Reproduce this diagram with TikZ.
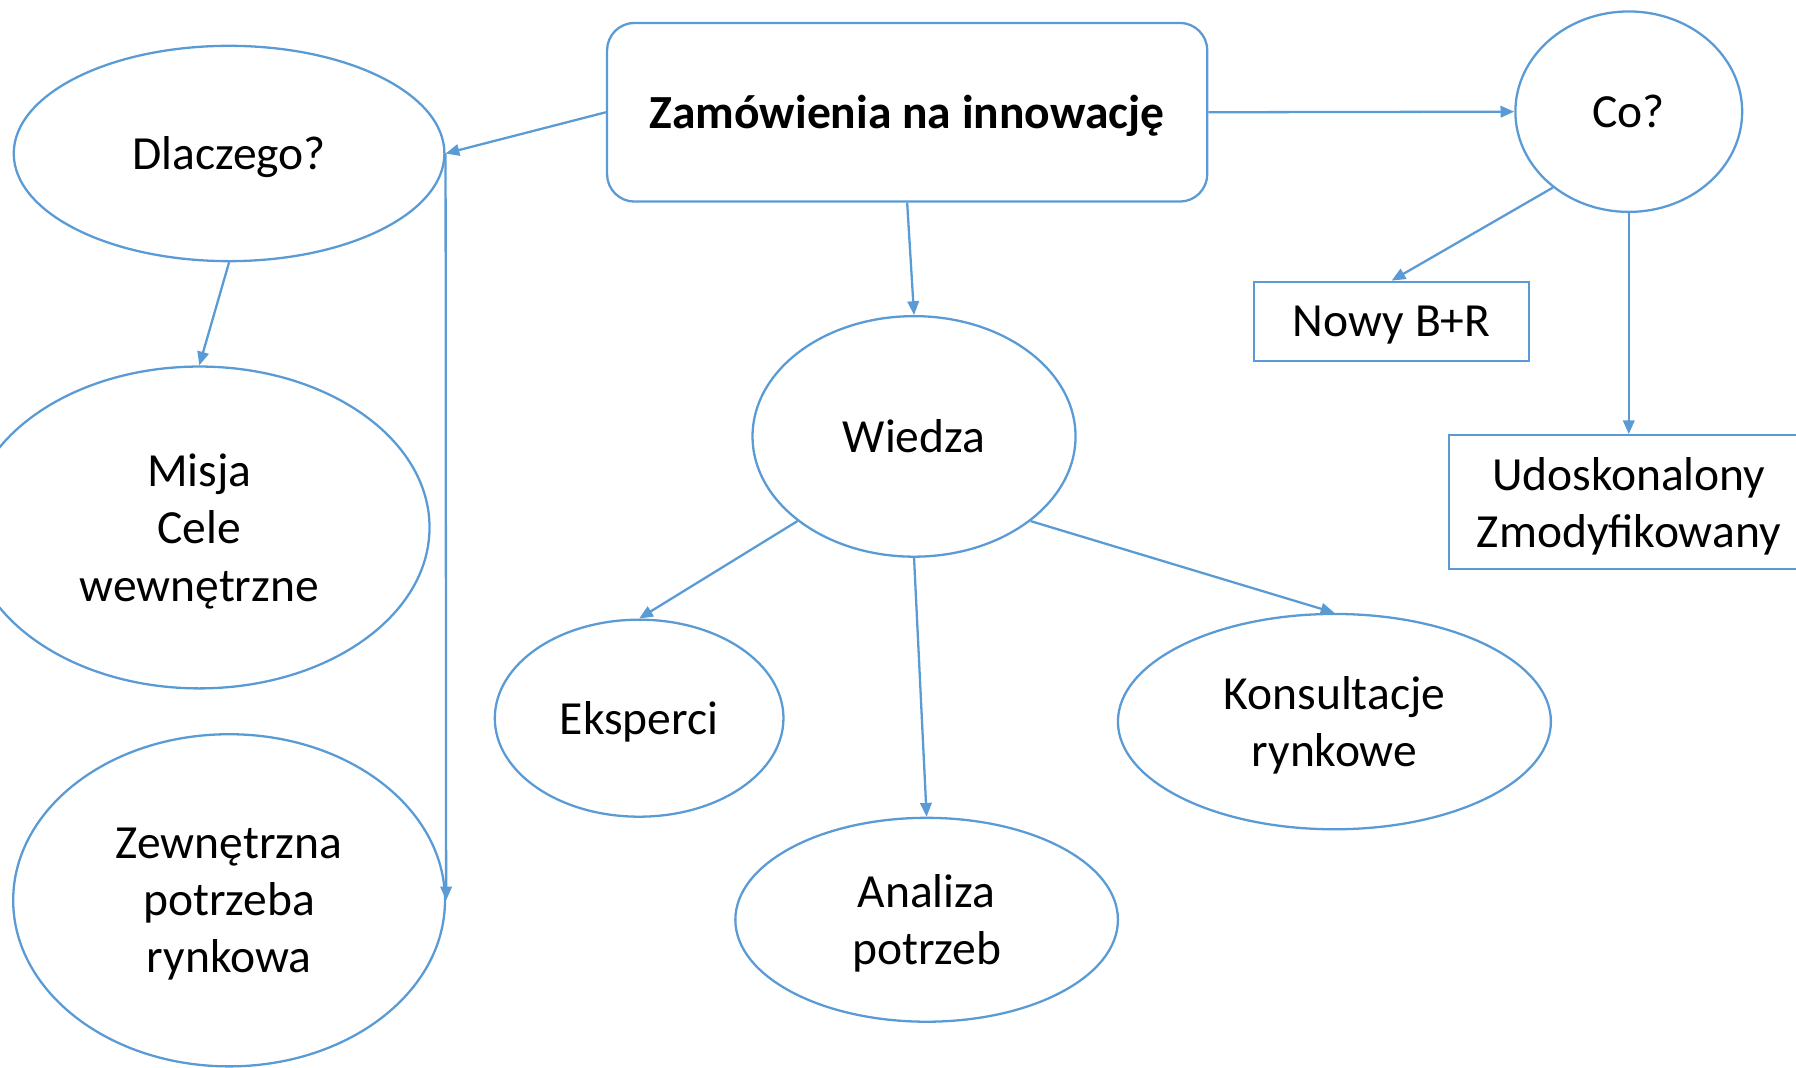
\documentclass[tikz,border=0pt]{standalone}
\usepackage{fontspec}
\setmainfont{Carlito}
\usetikzlibrary{shapes.geometric,arrows.meta}
\definecolor{lineblue}{HTML}{5B9BD5}
\begin{document}
\begin{tikzpicture}[x=1pt,y=-1pt,
  every node/.style={font=\fontsize{41.5}{50}\selectfont, align=center, inner sep=0pt, text depth=0pt},
  ell/.style={draw=lineblue, line width=2pt, ellipse},
  box/.style={draw=lineblue, line width=2pt, rectangle},
  conn/.style={draw=lineblue, line width=2pt, -{Triangle[length=12pt,width=10pt]}}]
\useasboundingbox (0,0) rectangle (1568,932.4);
\node[draw=lineblue, line width=2pt, rounded corners=24pt, minimum width=524pt, minimum height=156pt, font=\fontsize{41.5}{50}\selectfont\bfseries] (main) at (792,98) {Zamówienia na innowację};
\node[ell, minimum width=376pt, minimum height=188pt] (dl) at (200,134) {Dlaczego?};
\node[ell, minimum width=402pt, minimum height=281pt] (mi) at (174,460.5) {Misja\\Cele\\wewnętrzne};
\node[ell, minimum width=377pt, minimum height=290pt] (ze) at (200,786) {Zewnętrzna\\potrzeba\\rynkowa};
\node[ell, minimum width=282pt, minimum height=210pt] (wi) at (798,381) {Wiedza};
\node[ell, minimum width=252pt, minimum height=172pt] (ek) at (558,627) {Eksperci};
\node[ell, minimum width=334pt, minimum height=178pt] (an) at (809,803) {Analiza\\potrzeb};
\node[ell, minimum width=378pt, minimum height=188pt] (ko) at (1165,630) {Konsultacje\\rynkowe};
\node[ell, minimum width=198pt, minimum height=175pt] (co) at (1422,97.5) {Co?};
\node[box, minimum width=240pt, minimum height=69pt] (no) at (1215,280.5) {Nowy B+R};
\node[box, minimum width=314pt, minimum height=117pt] (ud) at (1422,438.5) {Udoskonalony\\Zmodyfikowany};
\draw[conn] (main.west) -- (dl.east);
\draw[conn] (dl.south) -- (mi.north);
\draw[conn] (dl.east) -- (ze.east);
\draw[conn] (main.south) -- (wi.north);
\draw[conn] (main.east) -- (co.west);
\draw[conn] (co.-135) -- (no.north);
\draw[conn] (co.south) -- (ud.north);
\draw[conn] (wi.-144) -- (ek.north);
\draw[conn] (wi.south) -- (an.north);
\draw[conn] (wi.-36) -- (ko.north);
\end{tikzpicture}
\end{document}
